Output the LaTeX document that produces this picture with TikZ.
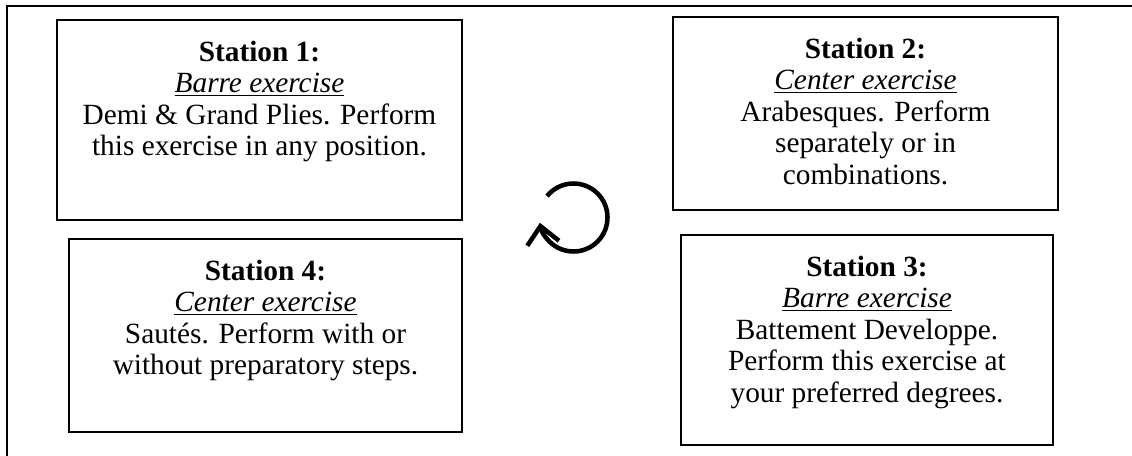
\documentclass[tikz,border=0pt]{standalone}
\usepackage{fontspec}
\setmainfont{Liberation Serif}
\usetikzlibrary{arrows.meta}

% Box content: text hangs from the top edge, first baseline 31pt down
\newcommand{\stationtext}[3]{%
  \parbox[c][#2][t]{#1}{\centering\fontsize{22}{23.6}\selectfont
    \rule{0pt}{31pt}#3}}

\tikzset{
  station/.style={draw=black, line width=1.3pt, inner sep=0pt, fill=white},
  frameline/.style={draw=black, line width=2pt},
  cyclearrow/.style={draw=black, line width=3.4pt,
    -{Straight Barb[length=13pt, width=24pt]}}
}

\begin{document}
\begin{tikzpicture}[x=0.75pt, y=-0.75pt]
  \useasboundingbox[fill=white] (0,0) rectangle (1132,456);

  % outer frame (top and left edges)
  \coordinate (fbl) at (7,456);
  \coordinate (ftl) at (7,6);
  \coordinate (ftr) at (1132,6);
  \draw[frameline] (fbl) -- (ftl) -- (ftr);

  \node[station] (s1) at (259.5,120) {\stationtext{303.75pt}{150pt}{%
    \textbf{Station 1:}\\
    \underline{\textit{Barre exercise}}\\
    Demi \& Grand Plies. Perform\\
    this exercise in any position.}};

  \node[station] (s2) at (865.5,113.5) {\stationtext{288.75pt}{144.75pt}{%
    \textbf{Station 2:}\\
    \underline{\textit{Center exercise}}\\
    Arabesques. Perform\\
    separately or in\\
    combinations.}};

  \node[station] (s3) at (867,340) {\stationtext{279pt}{157.5pt}{%
    \textbf{Station 3:}\\
    \underline{\textit{Barre exercise}}\\
    Battement Developpe.\\
    Perform this exercise at\\
    your preferred degrees.}};

  \node[station] (s4) at (265.5,335.5) {\stationtext{294.75pt}{144.75pt}{%
    \textbf{Station 4:}\\
    \underline{\textit{Center exercise}}\\
    Sautés. Perform with or\\
    without preparatory steps.}};

  % rotation symbol between the stations
  \coordinate (cyc) at (573.5,217.5);
  \draw[cyclearrow] (cyc) ++(141:25.5pt) arc[start angle=141, end angle=-171, radius=25.5pt];
\end{tikzpicture}
\end{document}
